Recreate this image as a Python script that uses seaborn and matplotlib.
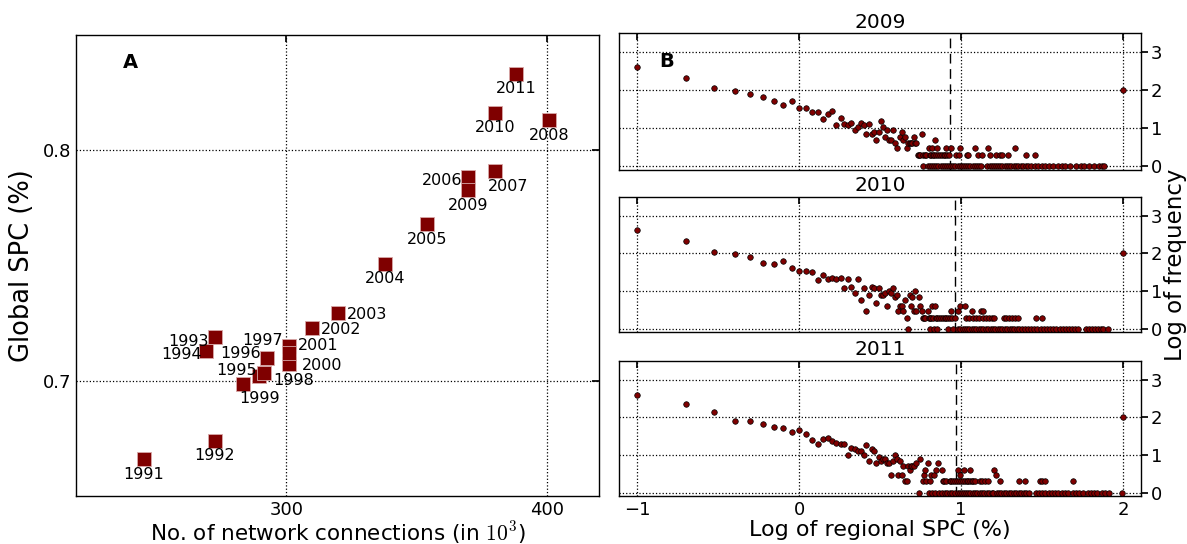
import matplotlib
matplotlib.use("Agg")
import matplotlib.pyplot as plt
import numpy as np
import pandas as pd
import seaborn as sns

# --- Panel A: global SPC vs. number of network connections ---------------
years = list(range(1991, 2012))
connections = [245.4, 272.6, 272.6, 269.4, 289.5, 292.5, 300.9, 291.3, 283.5, 300.9,
               300.9, 309.7, 319.7, 337.8, 353.9, 369.8, 380.0, 400.9, 369.8, 380.0, 388.1]
global_spc = [0.666, 0.674, 0.719, 0.713, 0.702, 0.710, 0.715, 0.7035, 0.6987, 0.7072,
              0.7122, 0.723, 0.7295, 0.7508, 0.7678, 0.7884, 0.7908, 0.8131, 0.7827, 0.8162, 0.8331]

# label offsets in points (layout only)
label_offset = {
    1993: (-19, -3), 1994: (-18, -3), 1995: (-16, 4), 1996: (-19, 3), 1997: (-19, 4),
    1998: (22, -6), 1999: (12, -11), 2000: (24, -1), 2001: (21, 5), 2002: (21, -1),
    2003: (21, -1), 2006: (-19, -3), 2007: (10, -11),
}

# --- Panel B: histogram of regional SPC (values in %, counts) -------------
spc_2009 = [0.1, 0.2, 0.3, 0.4, 0.5, 0.6, 0.7, 0.8, 0.9, 1.0, 1.1, 1.2, 1.3, 1.4, 1.5, 1.6,
            1.7, 1.8, 1.9, 2.0, 2.1, 2.2, 2.3, 2.4, 2.5, 2.6, 2.7, 2.8, 2.9, 3.0, 3.1, 3.2,
            3.3, 3.4, 3.5, 3.6, 3.7, 3.8, 3.9, 4.0, 4.2, 4.3, 4.4, 4.5, 4.6, 4.7, 4.8, 4.9,
            5.0, 5.1, 5.2, 5.3, 5.7, 6.9, 6.3, 6.6, 7.1, 8.1, 8.7, 9.9, 12.2, 14.7, 21.4, 100.0]
freq_2009 = [407, 209, 115, 94, 81, 68, 53, 41, 51, 34, 33, 26, 27, 17, 23, 28,
             12, 18, 13, 12, 14, 9, 11, 14, 12, 7, 13, 7, 8, 5, 8, 15,
             11, 6, 9, 5, 5, 9, 4, 3, 6, 8, 5, 6, 3, 4, 4, 4,
             4, 6, 4, 4, 7, 5, 3, 3, 3, 3, 3, 3, 3, 3, 3, 100]
pairs_2009 = [5.4, 5.5, 5.6, 5.8, 6.0, 6.1, 6.4, 6.5, 6.7, 6.8, 7.0, 7.2, 7.4, 7.6, 7.8, 8.0,
              8.2, 8.4, 9.3, 9.7, 10.8, 11.1, 12.7, 13.4, 15.1, 16.3, 17.3, 17.9, 19.4, 25.0, 28.4]
singles_2009 = [5.8, 6.2, 6.4, 6.6, 6.8, 7.0, 7.2, 7.5, 7.7, 8.0, 8.2, 8.4, 8.7, 8.9, 9.2, 9.5,
                9.8, 10.1, 10.4, 10.7, 11.1, 11.4, 11.8, 12.1, 12.5, 12.9, 13.3, 14.5, 15.0, 15.4,
                15.9, 16.4, 16.9, 17.4, 18.0, 18.6, 19.2, 19.8, 20.4, 21.1, 21.8, 22.5, 23.3, 24.1,
                25.0, 26.0, 27.0, 28.5, 30.0, 31.5, 33.0, 35.0, 37.0, 39.5, 42.0, 44.0, 46.8, 51.0,
                55.0, 57.5, 61.7, 66.0, 70.8, 74.0, 76.5]

spc_2010 = [0.1, 0.2, 0.3, 0.4, 0.5, 0.6, 0.7, 0.8, 0.9, 1.0, 1.1, 1.2, 1.3, 1.4, 1.5, 1.6,
            1.7, 1.8, 1.9, 2.0, 2.1, 2.2, 2.3, 2.4, 2.5, 2.6, 2.7, 2.8, 2.9, 3.0, 3.1, 3.2,
            3.3, 3.4, 3.5, 3.6, 3.7, 3.8, 3.9, 4.0, 4.1, 4.2, 4.3, 4.4, 4.5, 4.6, 4.7, 4.8,
            4.9, 5.0, 5.1, 5.2, 5.3, 5.5, 5.6, 5.7, 6.2, 6.6, 6.9, 8.6, 9.5, 9.8, 10.5, 11.7,
            13.2, 13.7, 100.0]
freq_2010 = [409, 209, 108, 97, 83, 56, 54, 63, 42, 35, 35, 33, 20, 27, 21, 23,
             21, 23, 12, 21, 13, 9, 21, 6, 12, 3, 8, 13, 12, 5, 12, 8,
             8, 9, 4, 10, 9, 12, 7, 8, 3, 4, 4, 3, 6, 2, 1, 8,
             4, 7, 3, 10, 3, 7, 4, 3, 3, 4, 4, 3, 3, 4, 4, 3,
             3, 3, 100]
pairs_2010 = [5.8, 5.9, 6.0, 6.3, 6.4, 6.5, 6.7, 7.0, 7.1, 7.3, 7.5, 7.7, 7.9, 8.1, 8.3, 8.5,
              8.8, 9.1, 10.7, 11.2, 11.8, 12.3, 12.9, 13.6, 14.2, 14.9, 15.5, 15.9, 18.4, 19.0,
              19.8, 20.6, 21.5, 22.5, 28.8, 31.6]
singles_2010 = [6.4, 6.8, 7.1, 8.3, 8.9, 9.6, 9.9, 10.2, 10.5, 10.9, 11.2, 11.6, 12.0, 12.4,
                12.8, 13.2, 13.7, 14.2, 14.7, 15.2, 15.7, 16.2, 16.8, 17.4, 18.0, 18.6, 19.2,
                19.9, 20.6, 21.3, 22.1, 22.9, 23.8, 24.8, 25.8, 27.0, 28.2, 29.5, 31.0, 32.5,
                34.0, 35.5, 37.0, 38.5, 40.5, 42.5, 44.5, 46.5, 48.5, 50.5, 52.5, 58.9, 62.0,
                64.5, 67.5, 70.0, 72.5, 75.5, 80.5]

spc_2011 = [0.1, 0.2, 0.3, 0.4, 0.5, 0.6, 0.7, 0.8, 0.9, 1.0, 1.1, 1.2, 1.3, 1.4, 1.5, 1.6,
            1.7, 1.8, 1.9, 2.0, 2.1, 2.2, 2.3, 2.4, 2.5, 2.6, 2.7, 2.8, 2.9, 3.0, 3.1, 3.2,
            3.3, 3.4, 3.5, 3.6, 3.7, 3.8, 3.9, 4.0, 4.1, 4.2, 4.3, 4.4, 4.5, 4.6, 4.7, 4.8,
            4.9, 5.0, 5.1, 5.3, 5.5, 5.6, 5.9, 6.0, 6.2, 6.5, 6.8, 7.0, 7.2, 7.6, 9.5, 9.8,
            10.4, 11.3, 15.9, 16.5, 100.0]
freq_2011 = [394, 228, 142, 82, 82, 67, 54, 53, 40, 46, 37, 25, 20, 26, 29, 23,
             21, 20, 19, 10, 15, 14, 13, 13, 10, 18, 7, 14, 13, 6, 9, 7,
             8, 8, 6, 6, 3, 7, 10, 8, 3, 7, 3, 5, 2, 2, 5, 4,
             5, 5, 5, 6, 1, 8, 3, 4, 6, 3, 3, 4, 6, 4, 4, 3,
             4, 4, 4, 3, 100]
pairs_2011 = [5.8, 6.1, 6.4, 7.7, 7.8, 8.1, 8.5, 8.7, 8.9, 9.1, 9.4, 9.7, 10.0, 10.2, 10.5,
              10.8, 11.0, 11.4, 11.6, 11.9, 12.1, 13.0, 13.5, 14.0, 14.7, 17.4, 22.9, 24.8,
              30.8, 31.6, 33.1, 49.0]
singles_2011 = [6.3, 6.6, 6.9, 7.3, 7.6, 7.9, 8.2, 8.5, 8.8, 9.1, 9.6, 9.9, 10.1, 10.4, 10.7,
                11.0, 11.4, 11.8, 12.2, 12.6, 13.0, 13.4, 13.9, 14.4, 14.9, 15.4, 15.8, 16.6,
                17.1, 17.7, 18.3, 19.0, 19.7, 20.4, 21.1, 21.9, 22.7, 23.5, 24.4, 25.3, 26.3,
                28.8, 30.2, 31.6, 33.1, 34.7, 36.3, 38.0, 39.8, 41.7, 43.7, 45.7, 49.0, 51.3,
                53.7, 56.2, 60.3, 63.1, 66.1, 69.2, 74.1, 77.6, 81.3, 99.0]

panel_years = [2009, 2010, 2011]
threshold_log = [0.93, 0.96, 0.97]

DARK_RED = "#7f0000"


def hist_frame(spc, freq, pairs, singles):
    s = list(spc) + list(pairs) + list(singles)
    f = list(freq) + [2] * len(pairs) + [1] * len(singles)
    df = pd.DataFrame({"spc": s, "freq": f})
    df["log_spc"] = np.log10(df["spc"])
    df["log_freq"] = np.log10(df["freq"])
    return df


def main() -> None:
    sns.set_theme(style="white")
    plt.rcParams.update({
        "font.family": ["DejaVu Sans"],
        "mathtext.fontset": "cm",
        "axes.edgecolor": "black",
        "axes.linewidth": 1.0,
        "xtick.color": "black",
        "ytick.color": "black",
        "text.color": "black",
        "axes.labelcolor": "black",
    })

    fig = plt.figure(figsize=(11.87, 5.44), dpi=100)

    # --- Panel A -----------------------------------------------------------
    axA = fig.add_axes([0.0644, 0.0882, 0.4402, 0.8480])
    dfA = pd.DataFrame({"year": years, "conn": connections, "spc": global_spc})
    sns.scatterplot(data=dfA, x="conn", y="spc", marker="s", color=DARK_RED,
                    s=95, edgecolor="#d8a8a8", linewidth=0.6, ax=axA, zorder=3)
    for _, row in dfA.iterrows():
        yr = int(row["year"])
        dx, dy = label_offset.get(yr, (0, -11))
        axA.annotate(str(yr), (row["conn"], row["spc"]), xytext=(dx, dy),
                     textcoords="offset points", ha="center", va="center", fontsize=11.5)
    axA.set_xlim(219.5, 420)
    axA.set_ylim(0.65, 0.85)
    axA.set_xticks([300, 400])
    axA.set_yticks([0.7, 0.8])
    axA.grid(True, color="black", linestyle=":", linewidth=0.9)
    axA.tick_params(direction="in", top=True, right=True, length=5, labelsize=13)
    axA.set_xlabel(r"No. of network connections (in $10^3$)", fontsize=15.5, labelpad=0)
    axA.set_ylabel("Global SPC (%)", fontsize=18.5, labelpad=6)
    axA.text(0.104, 0.939, "A", transform=axA.transAxes, fontsize=14,
             fontweight="bold", ha="center", va="center")

    # --- Panel B -----------------------------------------------------------
    frames = [
        hist_frame(spc_2009, freq_2009, pairs_2009, singles_2009),
        hist_frame(spc_2010, freq_2010, pairs_2010, singles_2010),
        hist_frame(spc_2011, freq_2011, pairs_2011, singles_2011),
    ]
    boxes = [
        [0.5218, 0.6884, 0.4394, 0.2504],
        [0.5218, 0.3888, 0.4394, 0.2496],
        [0.5218, 0.0882, 0.4394, 0.2487],
    ]
    axes_b = []
    for i, (df, box) in enumerate(zip(frames, boxes)):
        ax = fig.add_axes(box)
        sns.scatterplot(data=df, x="log_spc", y="log_freq", color=DARK_RED, s=16,
                        edgecolor="black", linewidth=0.5, ax=ax, zorder=3)
        ax.axvline(threshold_log[i], color="black", linestyle=(0, (7, 4)),
                   linewidth=1.0, zorder=2)
        ax.set_xlim(-1.11, 2.11)
        ax.set_ylim(-0.09, 3.5)
        ax.set_xticks([-1, 0, 1, 2])
        ax.set_yticks([0, 1, 2, 3])
        ax.grid(True, color="black", linestyle=":", linewidth=0.9)
        ax.yaxis.tick_right()
        ax.tick_params(axis="y", direction="out", length=5, labelsize=13, pad=2)
        ax.tick_params(axis="x", direction="in", top=True, length=5, labelsize=13)
        ax.set_title(str(panel_years[i]), fontsize=14.5, pad=4)
        ax.set_ylabel("")
        if i < 2:
            ax.set_xticklabels([])
            ax.set_xlabel("")
        else:
            ax.set_xticklabels(["\u22121", "0", "1", "2"])
            ax.set_xlabel("Log of regional SPC (%)", fontsize=16, labelpad=1)
        axes_b.append(ax)

    axes_b[0].text(0.091, 0.79, "B", transform=axes_b[0].transAxes, fontsize=14,
                   fontweight="bold", ha="center", va="center")
    axes_b[1].yaxis.set_label_position("right")
    axes_b[1].set_ylabel("Log of frequency", fontsize=16.5, labelpad=1)

    fig.savefig("out.png", dpi=100)


if __name__ == "__main__":
    main()
